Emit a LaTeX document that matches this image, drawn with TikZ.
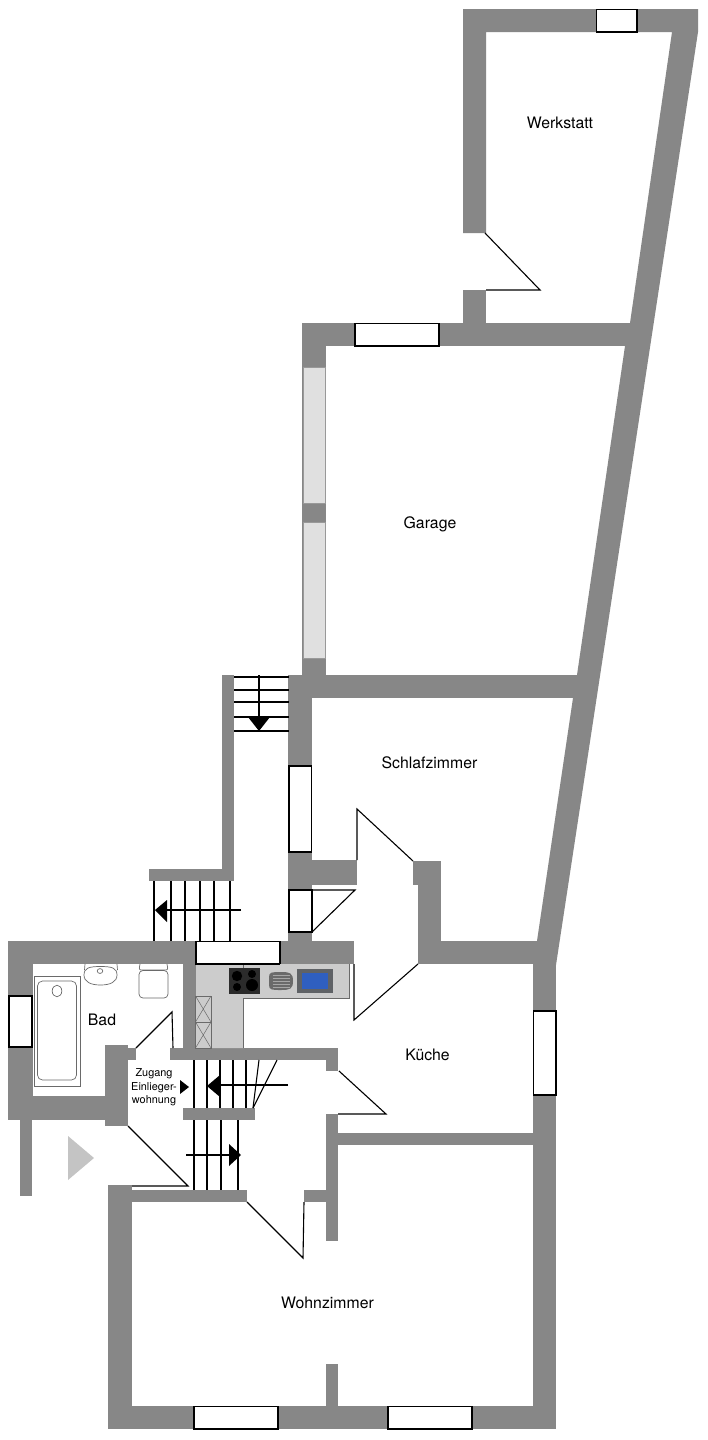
\documentclass[tikz,border=0pt]{standalone}
\usepackage{fontspec}
\setmainfont{TeX Gyre Heros}
\definecolor{wallgray}{HTML}{878787}
\definecolor{kitchen}{HTML}{CCCCCC}
\definecolor{glass}{HTML}{E0E0E0}
\definecolor{fixture}{HTML}{6A6A6A}
\definecolor{entry}{HTML}{C4C4C4}
\definecolor{hob}{HTML}{2B2B2B}
\definecolor{sinkblue}{HTML}{2F5FC0}
\definecolor{frame}{HTML}{5F6266}
\tikzset{
  wall/.style={fill=wallgray,draw=none},
  win/.style={fill=white,draw=black,line width=1.2pt},
  glasspane/.style={fill=glass,draw=wallgray!85,line width=0.9pt},
  door/.style={draw=black,line width=1.1pt},
  tread/.style={draw=black,line width=1.1pt},
  solidhead/.style={fill=black,draw=none},
  fixt/.style={draw=fixture,line width=0.7pt,fill=white},
  label/.style={font=\fontsize{15.8}{18}\selectfont,text=black,inner sep=0pt,anchor=base},
  smalllabel/.style={font=\fontsize{10.9}{13.4}\selectfont,text=black,inner sep=0pt,align=center}
}
\begin{document}
\begin{tikzpicture}[x=1pt,y=-1pt]
\useasboundingbox (0,0) rectangle (707,1440);
\fill[white] (0,0) rectangle (707,1440);
% slanted right wall + Werkstatt
\fill[wall] (463,9) -- (698,9) -- (698,32) -- (556,965) -- (537,965) -- (537,941) -- (573,698) -- (577,675) -- (625,346) -- (630,323) -- (672,32) -- (486,32) -- (486,233) -- (463,233) -- cycle;
\fill[wall] (463,290) rectangle (486,323);
\fill[wall] (302,323) rectangle (640,346);
\fill[wall] (302,346) rectangle (326,675);
\fill[wall] (288,675) rectangle (590,698);
\fill[wall] (288,698) rectangle (312,941);
\fill[wall] (312,860) rectangle (357,885);
\fill[wall] (413,861) rectangle (441,885);
\fill[wall] (418,885) rectangle (441,964);
\fill[wall] (441,941) rectangle (540,964);
\fill[wall] (533,964) rectangle (556,1429);
% upper stair walls
\fill[wall] (222,675) rectangle (234,881);
\fill[wall] (149,869) rectangle (222,881);
% Bad
\fill[wall] (8,941) rectangle (354,964);
\fill[wall] (8,964) rectangle (33,1120);
\fill[wall] (33,1096) rectangle (105,1120);
\fill[wall] (105,1045) rectangle (128,1126);
\fill[wall] (128,1048) rectangle (136,1060);
\fill[wall] (20,1120) rectangle (32,1196);
\fill[wall] (183,964) rectangle (196,1048);
\fill[wall] (170,1048) rectangle (338,1060);
\fill[wall] (326,1060) rectangle (338,1071);
\fill[wall] (183,1108) rectangle (255,1120);
% Wohnzimmer
\fill[wall] (108,1185) rectangle (132,1429);
\fill[wall] (132,1190) rectangle (247,1202);
\fill[wall] (304,1190) rectangle (326,1202);
\fill[wall] (326,1114) rectangle (338,1241);
\fill[wall] (338,1133) rectangle (533,1145);
\fill[wall] (326,1364) rectangle (338,1406);
\fill[wall] (132,1406) rectangle (533,1429);
% windows
\draw[win] (596.5,9.5) rectangle (637,32);
\draw[win] (355,323.5) rectangle (439,346);
\draw[glasspane] (303,367) rectangle (325.5,503);
\draw[glasspane] (303,522.5) rectangle (325.5,658);
\draw[win] (289,766) rectangle (311.5,852);
\draw[win] (289,890) rectangle (312,932);
\draw[win] (196,941.5) rectangle (280,964);
\draw[win] (9,996) rectangle (32,1047);
\draw[win] (533.5,1011) rectangle (556,1095);
\draw[win] (194,1406.5) rectangle (278,1429);
\draw[win] (388,1406.5) rectangle (472,1429);
% doors
\draw[door] (485,233) -- (540,290) -- (486,290);
\draw[door] (357,860) -- (357,809) -- (413,861);
\draw[door] (312,890) -- (355,890) -- (312,932);
\draw[door] (418,964) -- (354,1020) -- (354,964);
\draw[door] (136,1048) -- (172,1012) -- (173,1048);
\draw[door] (339,1071) -- (386,1114) -- (338,1114);
\draw[door] (128,1126) -- (188,1186) -- (132,1186);
\draw[door] (247,1202) -- (303,1258) -- (304,1202);
% stairs: top
\foreach \y in {677,690,702,717,731} \draw[tread] (234,\y) -- (289,\y);
\draw[tread] (259,675) -- (259,720);
\fill[solidhead] (248,717) -- (270,717) -- (259,731) -- cycle;
% stairs: side
\foreach \x in {154,171,185,200,214,230} \draw[tread] (\x,881) -- (\x,941);
\draw[tread] (241,910) -- (165,910);
\fill[solidhead] (167,900) -- (167,922) -- (155,910) -- cycle;
% stairs: inner up
\foreach \x in {194,207,220,233,246} \draw[tread] (\x,1060) -- (\x,1108);
\draw[tread] (259,1060) -- (253,1108);
\draw[tread] (277,1060) -- (253,1108);
\draw[tread] (288,1085) -- (218,1085);
\fill[solidhead] (220,1075) -- (220,1097) -- (207,1086) -- cycle;
% stairs: inner down
\foreach \x in {194,207,221,238} \draw[tread] (\x,1120) -- (\x,1190);
\draw[tread] (186,1155) -- (231,1155);
\fill[solidhead] (229,1144) -- (229,1166) -- (241,1155) -- cycle;
% entry marks
\fill[solidhead] (180,1080) -- (189,1087) -- (180,1094) -- cycle;
\fill[entry] (68,1136) -- (94,1158) -- (68,1180) -- cycle;
% kitchen
\fill[kitchen] (196,964) -- (349,964) -- (349,998) -- (243,998) -- (243,1048) -- (196,1048) -- cycle;
\draw[fixture,line width=0.7pt] (349,964) -- (349,998) -- (243,998) -- (243,1048) (243,964) -- (243,968);
\draw[black,line width=1.2pt] (196,964) -- (280,964);
\foreach \ya/\yb in {996/1022,1022/1048}{
  \draw[fixture,line width=0.7pt] (195.5,\ya) rectangle (211,\yb);
  \draw[fixture,line width=0.5pt] (195.5,\ya) -- (211,\yb) (211,\ya) -- (195.5,\yb);
}
\fill[hob] (229,968) rectangle (260,994);
\fill[black] (237,976) circle (5.2) (252,974) circle (4) (237,987) circle (4) (252,985) circle (6);
\fill[fixture] (269,977) .. controls (269,972) and (272,972) .. (281,972) .. controls (290,972) and (293,973) .. (293,981) .. controls (293,989) and (290,990) .. (281,990) .. controls (272,990) and (269,990) .. (269,985) -- cycle;
\foreach \y in {975.5,978.5,981.5,984.5,987} \draw[black!35,line width=0.7pt] (272.5,\y) -- (289.5,\y);
\fill[frame] (297,969) rectangle (333,993);
\fill[sinkblue] (302,973) rectangle (328,989);
% bath
\draw[fixt] (34,976) rectangle (80,1086);
\draw[fixt,rounded corners=5pt] (37.5,981) rectangle (76.5,1080);
\draw[fixt] (57,991) ellipse (4.8 and 5.8);
% basin
\draw[fixture,line width=0.7pt] (85,964) -- (84.5,970) (117,964) -- (117.5,970);
\draw[fixt] (84,975) .. controls (84,968) and (89,966.5) .. (100.5,966.5) .. controls (112,966.5) and (117,968) .. (117,975) .. controls (117,982) and (110,985) .. (100.5,985) .. controls (91,985) and (84,982) .. (84,975) -- cycle;
\draw[fixt] (100,971) ellipse (2.8 and 2.4);
% WC
\draw[fixt,rounded corners=2pt] (140,964) -- (139,970) -- (168,970) -- (167,964);
\draw[fixt,rounded corners=4pt] (139,970.5) rectangle (168,998);
% labels
\node[label] (werkstatt) at (560,128) {Werkstatt};
\node[label] (garage) at (430,528) {Garage};
\node[label] (schlaf) at (429.5,768) {Schlafzimmer};
\node[label] (kueche) at (427.5,1060) {Küche};
\node[label] (bad) at (102,1025) {Bad};
\node[label] (wohn) at (327.5,1308) {Wohnzimmer};
\node[smalllabel] (zugang) at (154,1087.5) {Zugang\\Einlieger-\\wohnung};
\end{tikzpicture}
\end{document}
